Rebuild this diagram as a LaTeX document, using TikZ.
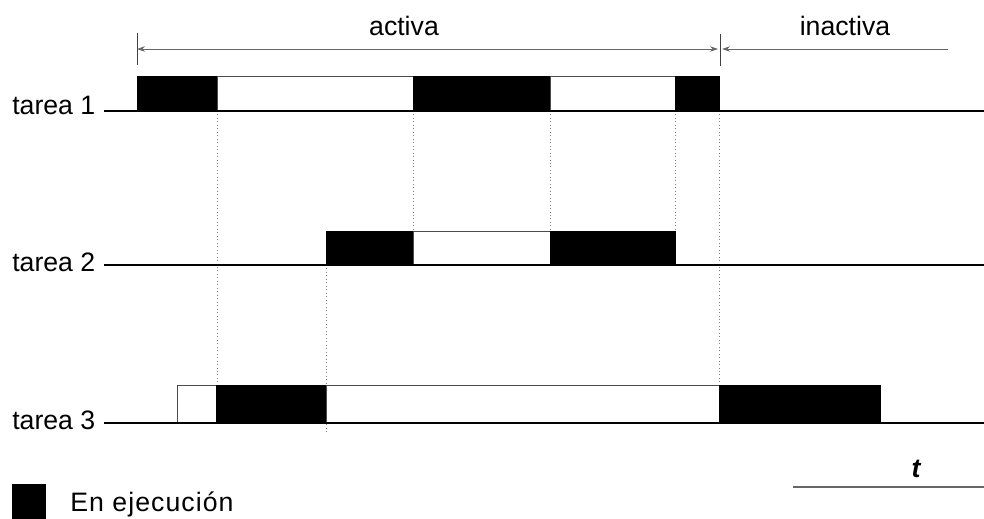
\documentclass[tikz,border=0pt]{standalone}
\usepackage{fontspec}
\setmainfont{Liberation Sans}
\usetikzlibrary{arrows.meta}
\begin{document}
\begin{tikzpicture}[x=0.75pt,y=-0.75pt,
  lbl/.style={font=\fontsize{20}{24}\selectfont, inner sep=0pt},
  run/.style={fill=black, draw=black, line width=0.5pt},
  wait/.style={fill=white, draw=black!70, line width=0.6pt},
  axis/.style={line width=1.4pt},
  guide/.style={draw=black!50, dotted, line width=0.6pt},
  dim/.style={draw=black!60, line width=0.6pt},
  tick/.style={draw=black!75, line width=0.7pt},
  both/.style={{Stealth[length=6pt,width=4pt]}-{Stealth[length=6pt,width=4pt]}},
  tipl/.style={-{Stealth[length=6pt,width=4pt]}}]
\useasboundingbox (0,0) rectangle (984,518);

% task labels and time axes
\node[lbl, anchor=base west] (t1) at (12,114) {tarea 1};
\node[lbl, anchor=base west] (t2) at (12,271) {tarea 2};
\node[lbl, anchor=base west] (t3) at (12,429) {tarea 3};
\coordinate (a1s) at (104,111); \coordinate (a1e) at (984,111);
\coordinate (a2s) at (104,265); \coordinate (a2e) at (984,265);
\coordinate (a3s) at (104,423); \coordinate (a3e) at (984,423);

% dotted guides between task changes
\draw[guide] (217,111) -- (217,385);
\draw[guide] (326,265) -- (326,432);
\draw[guide] (413,111) -- (413,231);
\draw[guide] (550,111) -- (550,231);
\draw[guide] (675,111) -- (675,231);
\draw[guide] (719,111) -- (719,385);

% tarea 1
\draw[run]  (137,76) rectangle (217,111);
\draw[wait] (217,76) rectangle (413,111);
\draw[run]  (413,76) rectangle (550,111);
\draw[wait] (550,76) rectangle (675,111);
\draw[run]  (675,76) rectangle (719,111);

% tarea 2
\draw[run]  (326,231) rectangle (413,265);
\draw[wait] (413,231) rectangle (550,265);
\draw[run]  (550,231) rectangle (675,265);

% tarea 3
\draw[wait] (177,385) rectangle (216,423);
\draw[run]  (216,385) rectangle (326,423);
\draw[wait] (326,385) rectangle (719,423);
\draw[run]  (719,385) rectangle (880,423);

\draw[axis] (a1s) -- (a1e);
\draw[axis] (a2s) -- (a2e);
\draw[axis] (a3s) -- (a3e);

% active / inactive spans
\coordinate (k1) at (137,49); \coordinate (k2) at (718,49);
\coordinate (k3) at (722,49); \coordinate (k4) at (948,49);
\draw[tick] (137,33) -- (137,65);
\draw[tick] (720,34) -- (720,66);
\draw[dim, both] (k1) -- (k2);
\draw[dim, tipl] (k4) -- (k3);
\node[lbl, anchor=base] (act) at (404,35) {activa};
\node[lbl, anchor=base] (inact) at (845,35) {inactiva};

% time label
\coordinate (ts) at (793,487); \coordinate (te) at (984,487);
\draw[dim, line width=0.8pt] (ts) -- (te);
\node[lbl, font=\fontsize{20}{24}\selectfont\bfseries\itshape, anchor=base] (tl) at (916,477) {t};

% legend
\draw[run] (12,484) rectangle (45,518);
\node[lbl, anchor=base west] (leg) at (70,511) {\addfontfeature{LetterSpace=4}En ejecución};
\end{tikzpicture}
\end{document}
